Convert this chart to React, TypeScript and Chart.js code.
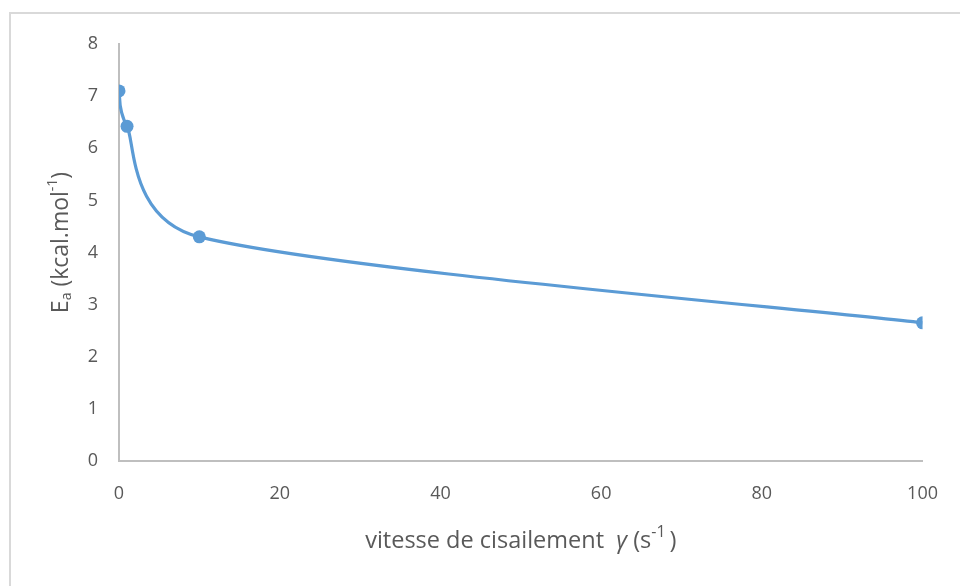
import React, { useEffect, useRef } from "react";
import { Chart, registerables } from "chart.js";

Chart.register(...registerables);

const shearRates = [0, 1, 10, 100];
const activationEnergy = [7.1, 6.42, 4.3, 2.65];
const xTicks = [0, 20, 40, 60, 80, 100];
const yTicks = [0, 1, 2, 3, 4, 5, 6, 7, 8];

const FONT = "'Open Sans', 'Liberation Sans', sans-serif";
const TEXT_COLOR = "#595959";

type Seg = { t: string; k?: "sub" | "sup"; italic?: boolean };

function drawSegs(ctx: CanvasRenderingContext2D, segs: Seg[], size: number, smallRatio = 0.62) {
  const small = Math.round(size * smallRatio);
  const setFont = (s: Seg) => {
    const fs = s.k ? small : size;
    ctx.font = `${s.italic ? "italic " : ""}${fs}px ${FONT}`;
  };
  const total = segs.reduce((a, s) => {
    setFont(s);
    return a + ctx.measureText(s.t).width;
  }, 0);
  let x = -total / 2;
  for (const s of segs) {
    setFont(s);
    const w = ctx.measureText(s.t).width;
    let dy = 0;
    if (s.k === "sub") dy = size * 0.25;
    if (s.k === "sup") dy = -size * 0.36;
    ctx.fillText(s.t, x, dy);
    x += w;
  }
}

// Excel-like smoothing: Catmull-Rom tangents (1/6 of neighbour span),
// handles shortened next to short chords so the curve does not overshoot.
const smoothPlugin = {
  id: "excelSmooth",
  beforeDatasetsDraw(chart: any) {
    const meta = chart.getDatasetMeta(0);
    const line = meta.dataset;
    if (line && line.updateControlPoints) line.updateControlPoints(chart.chartArea, "x");
    const pts = meta.data;
    const n = pts.length;
    const dist = (a: any, b: any) => Math.hypot(b.x - a.x, b.y - a.y);
    for (let i = 0; i < n; i++) {
      const p = pts[i];
      const prev = pts[Math.max(0, i - 1)];
      const next = pts[Math.min(n - 1, i + 1)];
      const dx = next.x - prev.x;
      const dy = next.y - prev.y;
      const len = Math.hypot(dx, dy) || 1;
      const ux = dx / len;
      const uy = dy / len;
      const base = len / 6;
      const dPrev = i > 0 ? dist(prev, p) : Infinity;
      const dNext = i < n - 1 ? dist(p, next) : Infinity;
      const hPrev = i > 0 ? Math.min(base, 0.55 * dPrev, (dNext * dNext) / 80) : 0;
      const hNext = i < n - 1 ? Math.min(base, 0.55 * dNext, (dPrev * dPrev) / 80) : 0;
      p.cp1x = p.x - ux * hPrev;
      p.cp1y = p.y - uy * hPrev;
      p.cp2x = p.x + ux * hNext;
      p.cp2y = p.y + uy * hNext;
    }
  },
};

const titlesPlugin = {
  id: "axisTitles",
  afterDraw(chart: any) {
    const ctx: CanvasRenderingContext2D = chart.ctx;
    const area = chart.chartArea;
    ctx.save();
    ctx.fillStyle = TEXT_COLOR;
    ctx.textAlign = "left";
    ctx.textBaseline = "middle";
    ctx.save();
    ctx.translate(61, (area.top + area.bottom) / 2 - 10);
    ctx.rotate(-Math.PI / 2);
    drawSegs(
      ctx,
      [{ t: "E" }, { t: "a", k: "sub" }, { t: " (kcal.mol" }, { t: "-1", k: "sup" }, { t: ")" }],
      23
    );
    ctx.restore();
    ctx.save();
    ctx.translate((area.left + area.right) / 2, 541);
    drawSegs(
      ctx,
      [
        { t: "vitesse de cisailement " },
        { t: " γ", italic: true },
        { t: " (s" },
        { t: "-1", k: "sup" },
        { t: "\u2009)" },
      ],
      23.5,
      0.7
    );
    ctx.restore();
    ctx.restore();
  },
};

export default function App() {
  const ref = useRef<HTMLCanvasElement>(null);
  useEffect(() => {
    if (!ref.current) return;
    const chart = new Chart(ref.current, {
      type: "scatter",
      data: {
        datasets: [
          {
            data: shearRates.map((x, i) => ({ x, y: activationEnergy[i] })),
            showLine: true,
            borderColor: "#5B9BD5",
            backgroundColor: "#5B9BD5",
            borderWidth: 3.2,
            pointRadius: 6.5,
            pointBorderWidth: 0,
            tension: 0.4,
          },
        ],
      },
      options: {
        animation: false,
        responsive: false,
        elements: { line: { capBezierPoints: false } },
        layout: { padding: { left: 0, top: 44, right: 35, bottom: 0 } },
        plugins: { legend: { display: false }, tooltip: { enabled: false } },
        scales: {
          x: {
            type: "linear",
            min: 0,
            max: 100,
            afterBuildTicks: (s: any) => {
              s.ticks = xTicks.map((v) => ({ value: v }));
            },
            afterFit: (s: any) => {
              s.height = 125;
            },
            grid: { display: false, drawTicks: false },
            border: { display: true, color: "#BFBFBF", width: 2 },
            ticks: { color: TEXT_COLOR, font: { family: FONT, size: 18 }, padding: 22 },
          },
          y: {
            type: "linear",
            min: 0,
            max: 8,
            afterBuildTicks: (s: any) => {
              s.ticks = yTicks.map((v) => ({ value: v }));
            },
            afterFit: (s: any) => {
              s.width = 119;
            },
            grid: { display: false, drawTicks: false },
            border: { display: true, color: "#BFBFBF", width: 2 },
            ticks: { color: TEXT_COLOR, font: { family: FONT, size: 18 }, padding: 21 },
          },
        },
      },
      plugins: [smoothPlugin, titlesPlugin],
    });
    return () => chart.destroy();
  }, []);
  return (
    <div style={{ position: "fixed", left: 0, top: 0, width: 960, height: 586, background: "#fff" }}>
      <div
        style={{
          position: "absolute",
          left: 9,
          top: 12,
          right: 0,
          bottom: 0,
          borderTop: "2px solid #D9D9D9",
          borderLeft: "2px solid #D9D9D9",
        }}
      />
      <canvas ref={ref} width={960} height={586} style={{ position: "absolute", left: 0, top: 0 }} />
    </div>
  );
}
